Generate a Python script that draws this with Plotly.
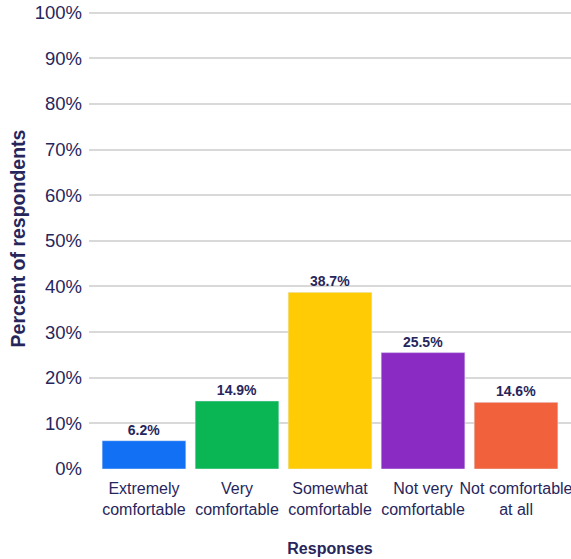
import plotly.graph_objects as go

categories = ["Extremely<br>comfortable", "Very<br>comfortable", "Somewhat<br>comfortable",
              "Not very<br>comfortable", "Not comfortable<br>at all"]
values = [6.2, 14.9, 38.7, 25.5, 14.6]
labels = ["6.2%", "14.9%", "38.7%", "25.5%", "14.6%"]
colors = ["#1170f4", "#0ab553", "#fecb05", "#8a2bc4", "#f0613c"]
y_ticks = [0, 10, 20, 30, 40, 50, 60, 70, 80, 90, 100]
y_ticklabels = [f"{t}%" for t in y_ticks]

text_color = "#27265c"

fig = go.Figure(go.Bar(
    x=categories, y=values, marker_color=colors, text=labels,
    textposition="outside", cliponaxis=False,
    textfont=dict(family="Liberation Sans, Arial", size=14, color=text_color, weight="bold"),
))
fig.update_layout(
    width=571, height=559,
    margin=dict(l=89, r=0, t=8.44, b=90),
    plot_bgcolor="white", paper_bgcolor="white",
    bargap=0.1, showlegend=False,
    font=dict(family="Liberation Sans, Arial", color=text_color),
)
fig.update_xaxes(range=[-0.591, 4.591], tickfont=dict(size=16, color=text_color), tickangle=0,
                 title=dict(text="<b>Responses</b>", font=dict(size=16, color=text_color), standoff=26),
                 showline=False, ticks="", ticklabelstandoff=8, automargin=False)
fig.update_yaxes(range=[0, 101], tickvals=y_ticks, ticktext=y_ticklabels,
                 tickfont=dict(size=18.5, color=text_color),
                 gridcolor="#d9d9d9", gridwidth=2, zeroline=False,
                 title=dict(text="<b>Percent of respondents</b>", font=dict(size=19.5, color=text_color), standoff=3),
                 ticks="", ticklen=0, ticklabelstandoff=6, automargin=False)
fig.write_html("out.html", config={"displayModeBar": False},
               post_script="document.body.style.margin='0';")
